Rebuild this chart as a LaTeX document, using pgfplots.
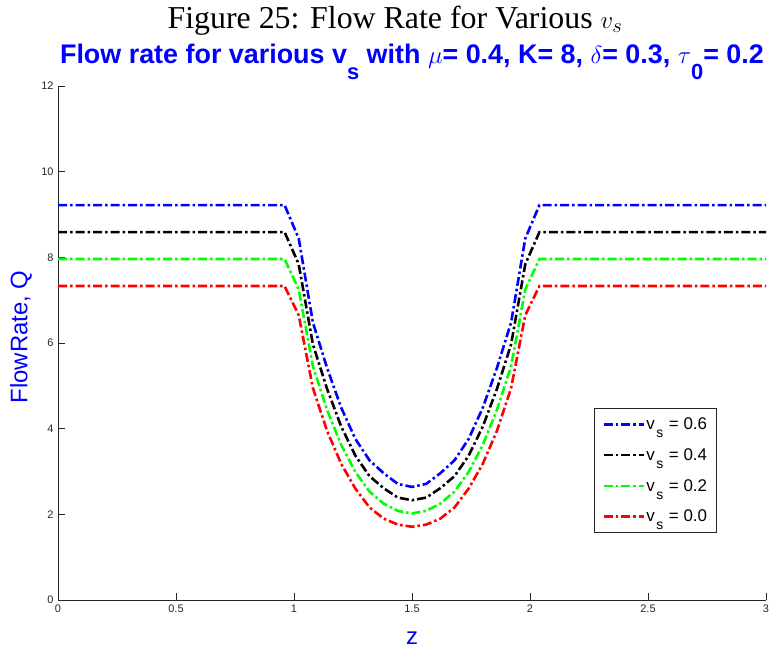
\documentclass[border=0pt]{standalone}
\usepackage{pgfplots}
\pgfplotsset{compat=1.18}
\usepackage{pgfplotstable}
\usepackage{fontspec}
\setmainfont{Liberation Serif}
\setsansfont{Liberation Sans}
\definecolor{axgray}{rgb}{0.15,0.15,0.15}
\definecolor{mblue}{rgb}{0,0,1}
\definecolor{mgreen}{rgb}{0,1,0}
\definecolor{mred}{rgb}{1,0,0}

\pgfplotstableread{
z    a    b    c    d
0.00 9.22 8.59 7.96 7.33
0.96 9.22 8.59 7.96 7.33
1.02 8.44 7.84 7.25 6.65
1.08 6.48 5.97 5.46 4.95
1.14 5.42 4.93 4.44 3.95
1.20 4.49 4.05 3.62 3.18
1.26 3.76 3.37 2.99 2.60
1.32 3.26 2.89 2.53 2.16
1.38 2.96 2.61 2.25 1.90
1.44 2.71 2.39 2.08 1.76
1.50 2.64 2.33 2.02 1.71
1.56 2.71 2.39 2.08 1.76
1.62 2.96 2.61 2.25 1.90
1.68 3.26 2.89 2.53 2.16
1.74 3.76 3.37 2.99 2.60
1.80 4.49 4.05 3.62 3.18
1.86 5.42 4.93 4.44 3.95
1.92 6.48 5.97 5.46 4.95
1.98 8.44 7.84 7.25 6.65
2.04 9.22 8.59 7.96 7.33
3.00 9.22 8.59 7.96 7.33
}\datatable

\tikzset{dd/.style={line width=2.6bp, dash pattern=on 9bp off 3bp on 2.5bp off 3bp}}
\newcommand{\lvs}{v\hspace{1.5bp}\raisebox{-8bp}{\fontsize{14}{14}\selectfont s}\hspace{1bp}}

\begin{document}
\begin{tikzpicture}
\useasboundingbox (0,0) rectangle (773bp,653bp);
\begin{axis}[
  at={(58bp,53bp)}, anchor=south west,
  scale only axis, width=708bp, height=514bp,
  xmin=0, xmax=3, ymin=0, ymax=12,
  xtick={0,0.5,...,3}, ytick={0,2,...,12},
  axis lines*=left,
  axis line style={axgray, line width=0.6bp},
  tick style={axgray, line width=0.6bp},
  tick align=inside, major tick length=7bp,
  /pgf/number format/assume math mode=true,
  ticklabel style={font=\sffamily\fontsize{11}{11}\selectfont, text=axgray},
  xticklabel style={yshift=-1bp},
  yticklabel style={xshift=-1bp},
  clip=false,
  xlabel={z},
  ylabel={FlowRate, Q},
  xlabel style={at={(axis description cs:0.5,-0.074)}, anchor=center, font=\sffamily\fontsize{24}{24}\selectfont, text=mblue},
  ylabel style={at={(axis description cs:-0.0523,0.512)}, anchor=center, font=\sffamily\fontsize{24}{24}\selectfont, text=mblue},
  legend image code/.code={\draw[#1] (0bp,0bp) -- (40bp,0bp);},
  legend cell align=left,
  legend style={at={(rel axis cs:0.930,0.131)}, anchor=south east,
    draw=axgray, line width=0.6bp,
    font=\sffamily\fontsize{17}{17}\selectfont,
    row sep=15.5bp, inner xsep=7.5bp, inner ysep=8bp,
    nodes={inner xsep=1.5bp, inner ysep=1bp},
    /tikz/every even column/.append style={column sep=0bp}},
]
\addplot[mblue, dd] table[x=z, y=a] {\datatable};
\addlegendentry{\lvs{} = 0.6}
\addplot[black, dd] table[x=z, y=b] {\datatable};
\addlegendentry{\lvs{} = 0.4}
\addplot[mgreen, dd] table[x=z, y=c] {\datatable};
\addlegendentry{\lvs{} = 0.2}
\addplot[mred, dd] table[x=z, y=d] {\datatable};
\addlegendentry{\lvs{} = 0.0}

\node[anchor=base, font=\rmfamily\fontsize{32}{32}\selectfont, inner sep=0pt] at (rel axis cs:0.476,1.111) {Figure 25: Flow Rate for Various $v_s$};
\node[anchor=base, font=\sffamily\bfseries\fontsize{27}{27}\selectfont, text=mblue, inner sep=0pt] at (rel axis cs:0.5,1.0447)
  {Flow rate for various v\raisebox{-0.6em}{\fontsize{22}{22}\selectfont s} with $\mu$= 0.4, K= 8, $\delta$= 0.3, $\tau$\raisebox{-0.6em}{\fontsize{22}{22}\selectfont 0}= 0.2};
\end{axis}
\end{tikzpicture}
\end{document}
